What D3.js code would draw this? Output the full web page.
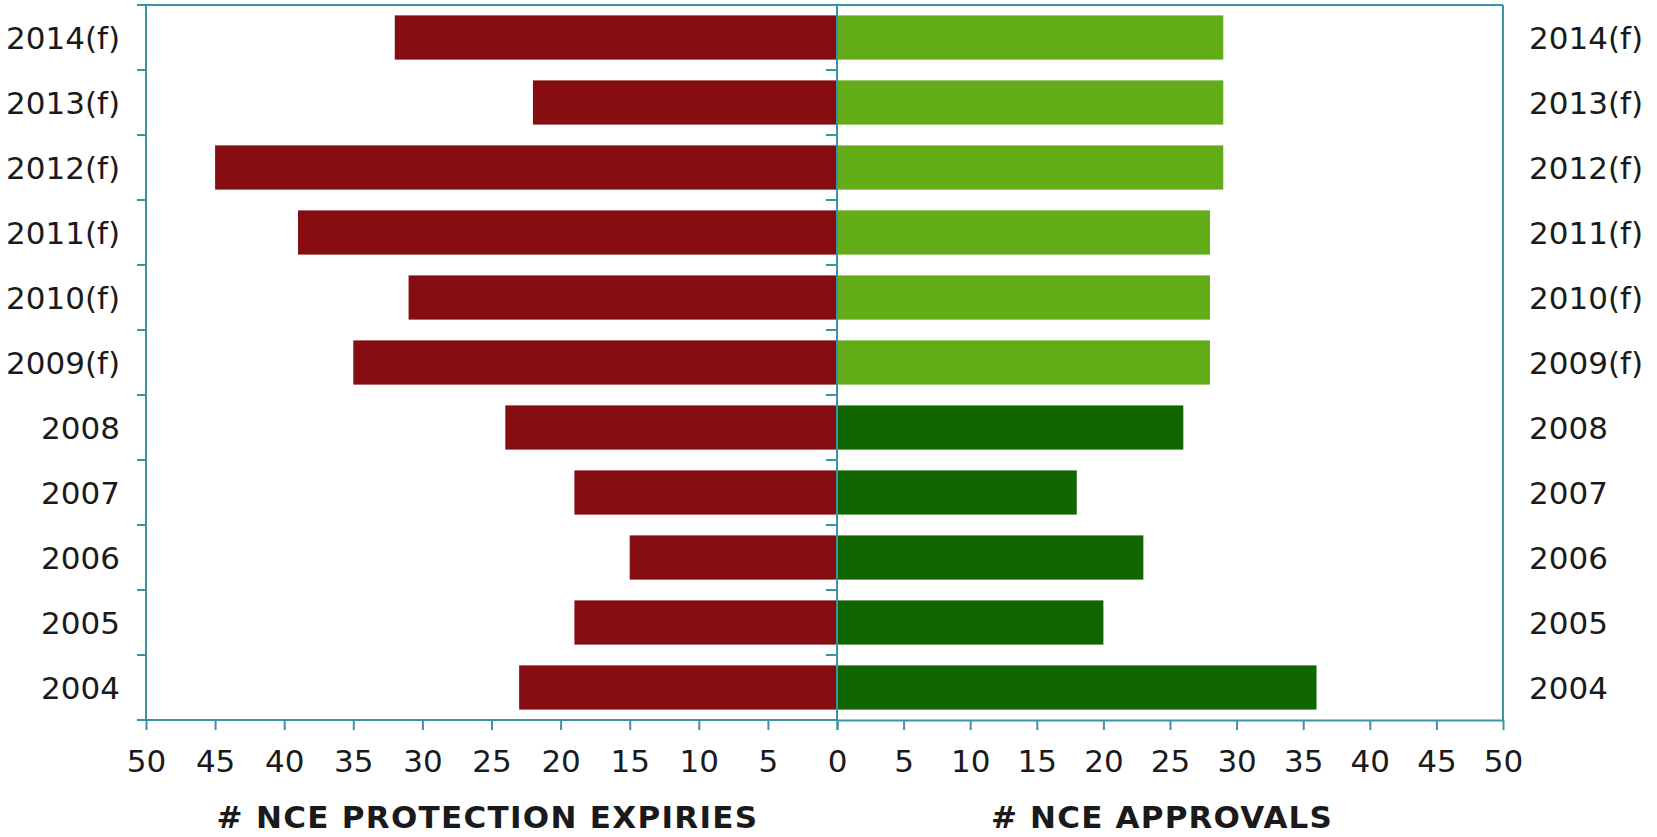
<!DOCTYPE html>
<html>
<head>
<meta charset="utf-8">
<script src="https://cdn.jsdelivr.net/npm/d3@7"></script>
<style>
  body { margin: 0; background: #fff; }
  text { font-family: "DejaVu Sans", Verdana, sans-serif; fill: #1a1a1a; }
</style>
</head>
<body>
<div id="chart"></div>
<script>
// years, bottom to top
var years = ["2004","2005","2006","2007","2008","2009(f)","2010(f)","2011(f)","2012(f)","2013(f)","2014(f)"];
var expiries = [23, 19, 15, 19, 24, 35, 31, 39, 45, 22, 32];
var approvals = [36, 20, 23, 18, 26, 28, 28, 28, 29, 29, 29];
var tickVals = [0, 5, 10, 15, 20, 25, 30, 35, 40, 45, 50];
var leftTitle = "# NCE PROTECTION EXPIRIES";
var rightTitle = "# NCE APPROVALS";

var width = 1657, height = 837;
var axisColor = "#3b94a4";

var rows = years.map(function(y, i) {
  return { year: y, exp: expiries[i], app: approvals[i], forecast: y.indexOf("(f)") > -1 };
});

var svg = d3.select("#chart").append("svg")
  .attr("width", width)
  .attr("height", height);

var xLeft = d3.scaleLinear().domain([50, 0]).range([146, 837]);
var xRight = d3.scaleLinear().domain([0, 50]).range([837, 1503]);

var y = d3.scaleBand()
  .domain(years.slice().reverse())
  .range([5, 720])
  .paddingInner(0.32)
  .paddingOuter(0.16);

var step = y.step();
// band boundaries for the category ticks
var bounds = y.domain().map(function(d) { return y(d) - step * 0.16; });
bounds.push(y.range()[1]);

// bars
svg.selectAll(".exp")
  .data(rows)
  .enter().append("rect")
  .attr("class", "exp")
  .attr("x", function(d) { return xLeft(d.exp); })
  .attr("y", function(d) { return y(d.year); })
  .attr("width", function(d) { return xLeft(0) - xLeft(d.exp); })
  .attr("height", y.bandwidth())
  .style("fill", "#850d11");

svg.selectAll(".app")
  .data(rows)
  .enter().append("rect")
  .attr("class", "app")
  .attr("x", xRight(0))
  .attr("y", function(d) { return y(d.year); })
  .attr("width", function(d) { return xRight(d.app) - xRight(0); })
  .attr("height", y.bandwidth())
  .style("fill", function(d) { return d.forecast ? "#61ac17" : "#126600"; });

// frame lines
var frame = svg.append("g")
  .style("stroke", axisColor)
  .style("stroke-width", 2);

frame.append("line") // top
  .attr("x1", xLeft(50) - 9).attr("x2", xRight(50))
  .attr("y1", y.range()[0]).attr("y2", y.range()[0]);
frame.append("line") // left
  .attr("x1", xLeft(50)).attr("x2", xLeft(50))
  .attr("y1", y.range()[0]).attr("y2", y.range()[1]);
frame.append("line") // right
  .attr("x1", xRight(50)).attr("x2", xRight(50))
  .attr("y1", y.range()[0]).attr("y2", y.range()[1]);
frame.append("line") // center
  .attr("x1", xLeft(0)).attr("x2", xLeft(0))
  .attr("y1", y.range()[0]).attr("y2", y.range()[1]);

// category ticks on left and center axes
frame.selectAll(".ltick")
  .data(bounds)
  .enter().append("line")
  .attr("x1", xLeft(50) - 9).attr("x2", xLeft(50))
  .attr("y1", function(d) { return d; }).attr("y2", function(d) { return d; });
frame.selectAll(".ctick")
  .data(bounds.slice(1, -1))
  .enter().append("line")
  .attr("x1", xLeft(0) - 11).attr("x2", xLeft(0))
  .attr("y1", function(d) { return d; }).attr("y2", function(d) { return d; });

// bottom axes
function styleAxis(g) {
  g.select(".domain").style("stroke", axisColor).style("stroke-width", 2);
  g.selectAll(".tick line").style("stroke", axisColor).style("stroke-width", 2);
  g.selectAll(".tick text")
    .style("font-size", "31px")
    .style("fill", "#1a1a1a")
    .attr("font-family", null);
}

var gL = svg.append("g")
  .attr("transform", "translate(0," + y.range()[1] + ")")
  .call(d3.axisBottom(xLeft).tickValues(tickVals).tickSize(10).tickPadding(20).tickSizeOuter(0))
  .call(styleAxis);
gL.selectAll(".tick").filter(function(d) { return d === 0; }).select("text").remove();
gL.select(".domain").attr("d", "M" + (xLeft(50) - 9) + ",0H" + xLeft(0));

var gR = svg.append("g")
  .attr("transform", "translate(0," + y.range()[1] + ")")
  .call(d3.axisBottom(xRight).tickValues(tickVals).tickSize(10).tickPadding(20).tickSizeOuter(0))
  .call(styleAxis);

// category labels
svg.selectAll(".lab-l")
  .data(rows)
  .enter().append("text")
  .attr("x", 120)
  .attr("y", function(d) { return y(d.year) + y.bandwidth() / 2; })
  .attr("dy", "0.36em")
  .attr("text-anchor", "end")
  .style("font-size", "31px")
  .text(function(d) { return d.year; });

svg.selectAll(".lab-r")
  .data(rows)
  .enter().append("text")
  .attr("x", 1529)
  .attr("y", function(d) { return y(d.year) + y.bandwidth() / 2; })
  .attr("dy", "0.36em")
  .attr("text-anchor", "start")
  .style("font-size", "31px")
  .text(function(d) { return d.year; });

// titles
svg.append("text")
  .attr("x", (xLeft(50) + xLeft(0)) / 2 - 4)
  .attr("y", 828)
  .attr("text-anchor", "middle")
  .style("font-size", "31px")
  .style("font-weight", "bold")
  .style("letter-spacing", "1.3px")
  .text(leftTitle);

svg.append("text")
  .attr("x", (xRight(0) + xRight(50)) / 2 - 8)
  .attr("y", 828)
  .attr("text-anchor", "middle")
  .style("font-size", "31px")
  .style("font-weight", "bold")
  .style("letter-spacing", "1.2px")
  .text(rightTitle);
</script>
</body>
</html>
